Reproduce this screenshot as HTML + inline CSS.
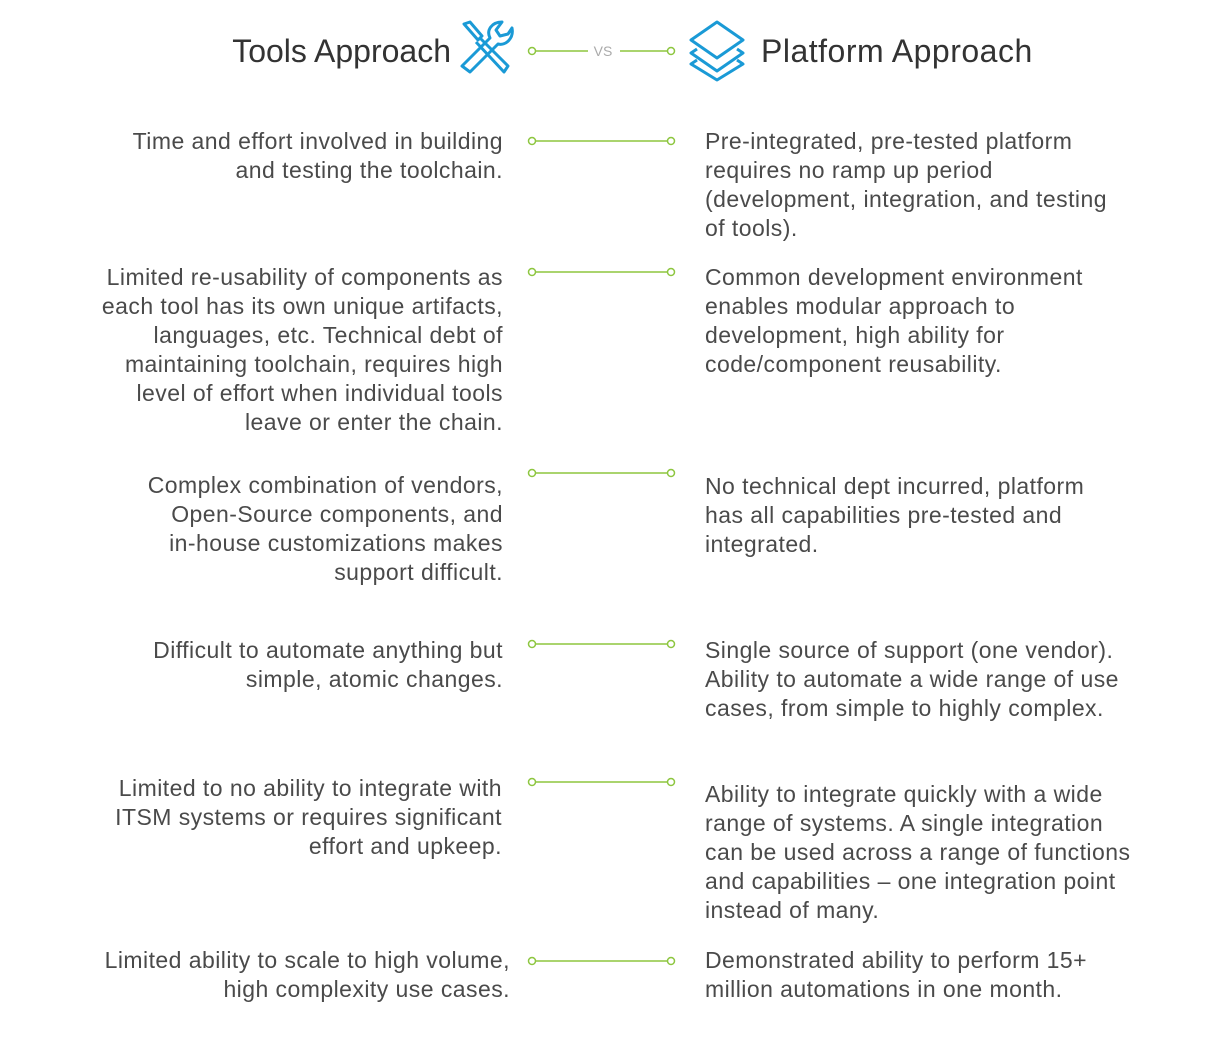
<!DOCTYPE html>
<html><head><meta charset="utf-8"><style>
body{margin:0;width:1216px;height:1064px;background:#fff;position:relative;font-family:"Liberation Sans",sans-serif;color:#4a4a4a;overflow:hidden}
.t{position:absolute;font-size:23px;letter-spacing:0.45px;line-height:29px;white-space:nowrap}
.l{right:713px;text-align:right}
.r{left:705px;text-align:left}
.h{position:absolute;font-size:32px;line-height:36px;color:#333;white-space:nowrap}
</style></head><body>
<div class="h" style="right:765px;top:33px">Tools Approach</div>
<div class="h" style="left:761px;top:33px;letter-spacing:0.5px">Platform Approach</div>
<svg width="1216" height="1064" style="position:absolute;left:0;top:0" fill="none">
<g stroke="#1a9ad6" stroke-width="3" stroke-linejoin="round">
<path d="M464 24 L470 22 L482 36 L478 40 Z"/>
<path d="M480 38 L508 66 L504 72 L476 42"/>
<path d="M462 66 L490 38 C486 30 492 22 502 22 L496 30 L500 36 L508 34 L512 28 C514 38 506 46 498 44 L470 72 Z"/>
<path d="M717 22 L743 40 L717 58 L691 40 Z"/>
<path d="M697 49 L691 53 L717 71 L743 53 L737 49"/>
<path d="M697 60 L691 64 L717 80 L743 64 L737 60"/>
</g>
<g stroke="#8dc63f" stroke-width="1.5" fill="#fff">
<line x1="536" y1="51" x2="588" y2="51"/><line x1="620" y1="51" x2="667" y2="51"/>
<circle cx="532" cy="51" r="3.5"/><circle cx="671" cy="51" r="3.5"/>
<line x1="536" y1="141" x2="667" y2="141"/><circle cx="532" cy="141" r="3.5"/><circle cx="671" cy="141" r="3.5"/>
<line x1="536" y1="272" x2="667" y2="272"/><circle cx="532" cy="272" r="3.5"/><circle cx="671" cy="272" r="3.5"/>
<line x1="536" y1="473" x2="667" y2="473"/><circle cx="532" cy="473" r="3.5"/><circle cx="671" cy="473" r="3.5"/>
<line x1="536" y1="644" x2="667" y2="644"/><circle cx="532" cy="644" r="3.5"/><circle cx="671" cy="644" r="3.5"/>
<line x1="536" y1="782" x2="667" y2="782"/><circle cx="532" cy="782" r="3.5"/><circle cx="671" cy="782" r="3.5"/>
<line x1="536" y1="961" x2="667" y2="961"/><circle cx="532" cy="961" r="3.5"/><circle cx="671" cy="961" r="3.5"/>
</g>
<text x="603" y="56" font-family="Liberation Sans" font-size="14" fill="#aaa" text-anchor="middle">VS</text>
</svg>
<div class="t l" style="top:127px">Time and effort involved in building<br>and testing the toolchain.</div>
<div class="t r" style="top:127px">Pre-integrated, pre-tested platform<br>requires no ramp up period<br>(development, integration, and testing<br>of tools).</div>
<div class="t l" style="top:263px">Limited re-usability of components as<br>each tool has its own unique artifacts,<br>languages, etc. Technical debt of<br>maintaining toolchain, requires high<br>level of effort when individual tools<br>leave or enter the chain.</div>
<div class="t r" style="top:263px">Common development environment<br>enables modular approach to<br>development, high ability for<br>code/component reusability.</div>
<div class="t l" style="top:471px">Complex combination of vendors,<br>Open-Source components, and<br>in-house customizations makes<br>support difficult.</div>
<div class="t r" style="top:472px">No technical dept incurred, platform<br>has all capabilities pre-tested and<br>integrated.</div>
<div class="t l" style="top:636px">Difficult to automate anything but<br>simple, atomic changes.</div>
<div class="t r" style="top:636px">Single source of support (one vendor).<br>Ability to automate a wide range of use<br>cases, from simple to highly complex.</div>
<div class="t l" style="top:774px;right:714px">Limited to no ability to integrate with<br>ITSM systems or requires significant<br>effort and upkeep.</div>
<div class="t r" style="top:780px">Ability to integrate quickly with a wide<br>range of systems. A single integration<br>can be used across a range of functions<br>and capabilities – one integration point<br>instead of many.</div>
<div class="t l" style="top:946px;right:706px">Limited ability to scale to high volume,<br>high complexity use cases.</div>
<div class="t r" style="top:946px">Demonstrated ability to perform 15+<br>million automations in one month.</div>
</body></html>
